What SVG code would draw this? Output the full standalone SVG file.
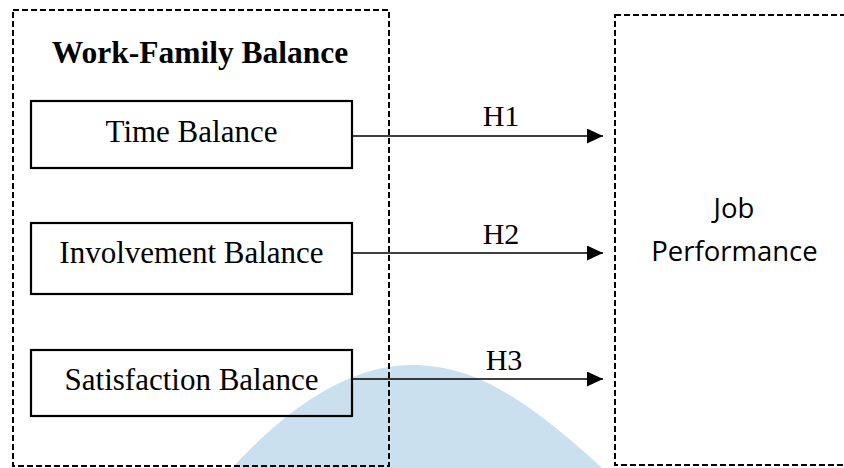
<svg xmlns="http://www.w3.org/2000/svg" width="844" height="468" viewBox="0 0 844 468">
  <style>
    .frame { fill: none; stroke: #000; stroke-width: 2; stroke-dasharray: 6 3; }
    .box { fill: none; stroke: #000; stroke-width: 2.2; }
    .serif { font-family: "Liberation Serif", "Times New Roman", serif; fill: #000; }
    .lbl { font-size: 31px; text-anchor: middle; }
    .hyp { font-size: 30px; text-anchor: middle; }
    .conn { stroke: #000; stroke-width: 1.4; fill: none; marker-end: url(#arr); }
    .sans { font-family: "Open Sans", "Liberation Sans", sans-serif; font-size: 27.5px; fill: #000; text-anchor: middle; }
  </style>
  <defs>
    <marker id="arr" markerWidth="16" markerHeight="15" refX="16" refY="7.5" orient="auto" markerUnits="userSpaceOnUse">
      <path d="M0,0 L16,7.5 L0,15 Z" fill="#000"/>
    </marker>
  </defs>
  <rect width="844" height="468" fill="#fff"/>
  <g id="watermark">
    <path d="M 232 468 C 260 438, 330 365, 412 365 C 470 365, 520 393, 602 468 Z" fill="#cbe0ee"/>
  </g>
  <g id="work-family-balance">
    <rect class="frame" x="13" y="10" width="376" height="456"/>
    <text class="serif" x="200" y="63" font-size="31.5" font-weight="bold" text-anchor="middle">Work-Family Balance</text>
  </g>
  <g id="time-balance">
    <rect class="box" x="31" y="101" width="321" height="67"/>
    <text class="serif lbl" x="191.5" y="142">Time Balance</text>
  </g>
  <g id="involvement-balance">
    <rect class="box" x="31" y="223" width="321" height="71"/>
    <text class="serif lbl" x="191.5" y="263">Involvement Balance</text>
  </g>
  <g id="satisfaction-balance">
    <rect class="box" x="31" y="350" width="321" height="66"/>
    <text class="serif lbl" x="191.5" y="390">Satisfaction Balance</text>
  </g>
  <g id="job-performance">
    <rect class="frame" x="615" y="15" width="240" height="450"/>
    <text class="sans" x="734" y="218">Job</text>
    <text class="sans" x="734.5" y="261">Performance</text>
  </g>
  <g id="connectors">
    <line class="conn" x1="352" y1="136" x2="603" y2="136"/>
    <line class="conn" x1="352" y1="253" x2="603" y2="253"/>
    <line class="conn" x1="352" y1="379" x2="603" y2="379"/>
    <text class="serif hyp" x="501" y="126">H1</text>
    <text class="serif hyp" x="501" y="244">H2</text>
    <text class="serif hyp" x="504" y="370">H3</text>
  </g>
</svg>
